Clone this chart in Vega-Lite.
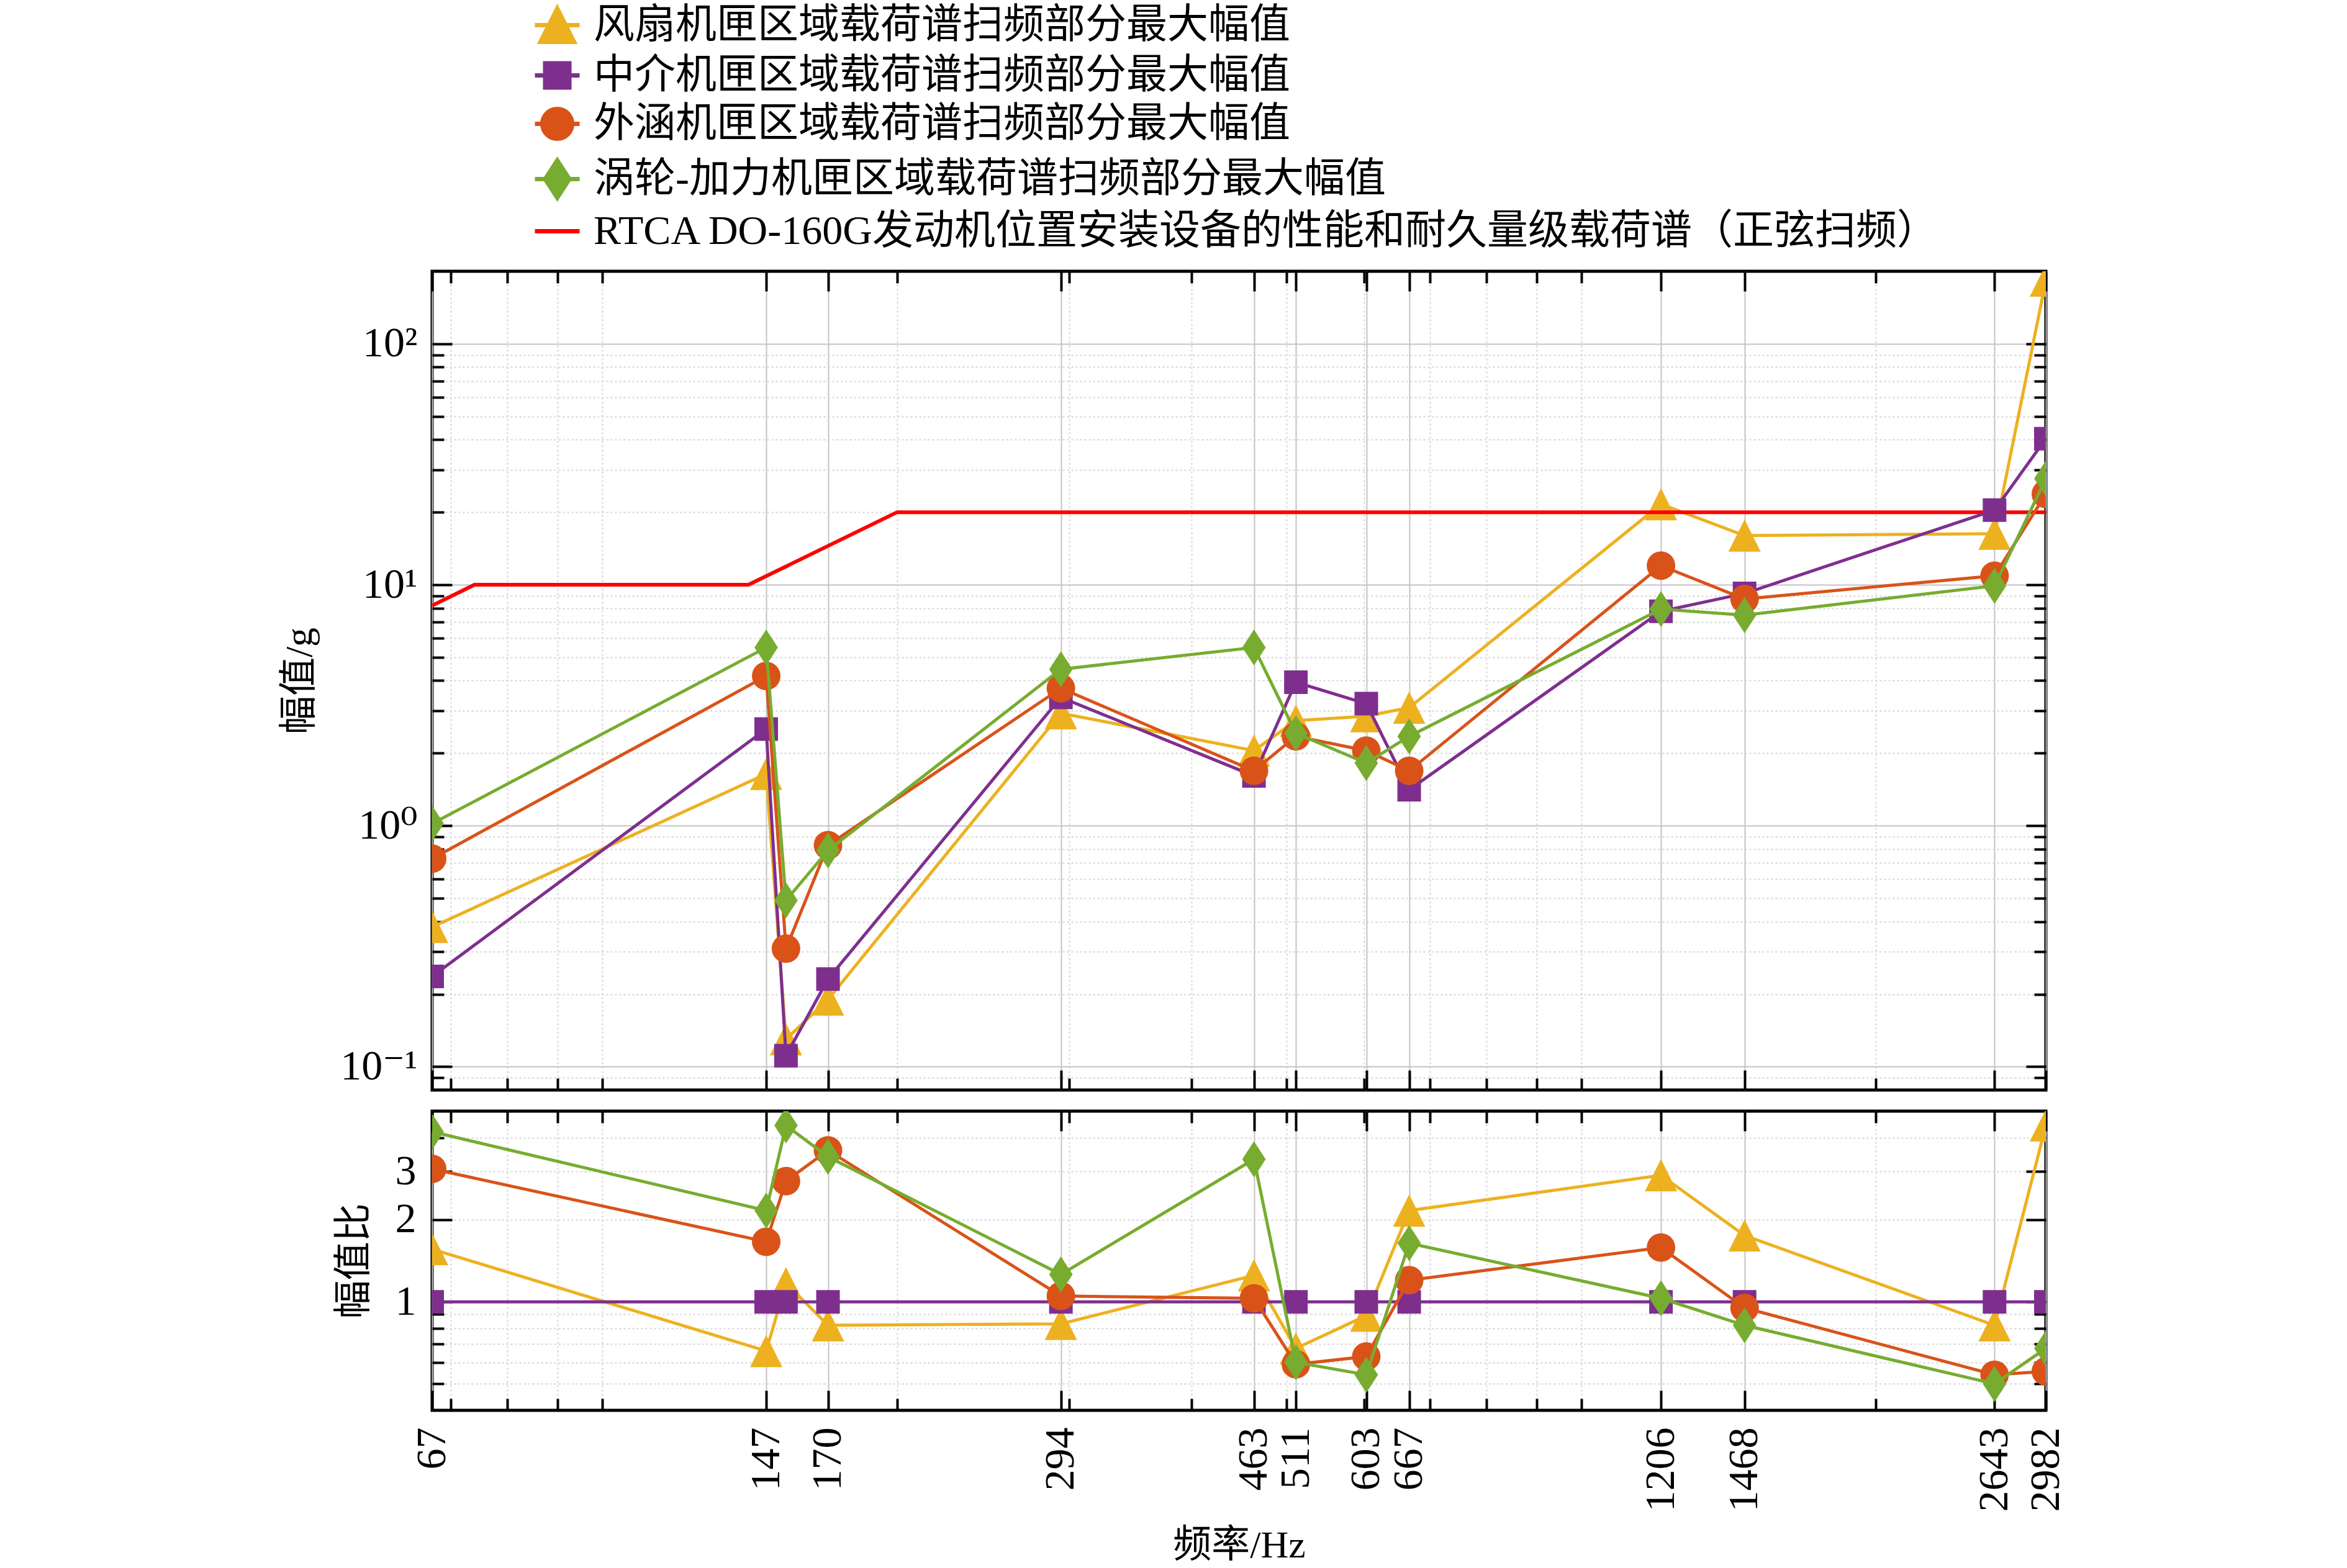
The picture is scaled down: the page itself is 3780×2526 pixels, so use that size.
{
  "$schema": "https://vega.github.io/schema/vega-lite/v6.json",
  "padding": {"left": 449, "top": 7, "right": 0, "bottom": 0},
  "datasets": {
    "fan": [
      {"f": 67, "v": 0.38, "r": 1.56}, {"f": 147, "v": 1.64, "r": 0.66}, {"f": 154, "v": 0.13, "r": 1.17},
      {"f": 170, "v": 0.19, "r": 0.82}, {"f": 294, "v": 2.93, "r": 0.83}, {"f": 463, "v": 2.05, "r": 1.25},
      {"f": 511, "v": 2.73, "r": 0.675}, {"f": 603, "v": 2.85, "r": 0.89}, {"f": 667, "v": 3.09, "r": 2.16},
      {"f": 1206, "v": 21.6, "r": 2.91}, {"f": 1468, "v": 16.0, "r": 1.75}, {"f": 2643, "v": 16.3, "r": 0.82},
      {"f": 2982, "v": 183, "r": 4.43}
    ],
    "mid": [
      {"f": 67, "v": 0.237, "r": 1}, {"f": 147, "v": 2.52, "r": 1}, {"f": 154, "v": 0.111, "r": 1},
      {"f": 170, "v": 0.231, "r": 1}, {"f": 294, "v": 3.41, "r": 1}, {"f": 463, "v": 1.61, "r": 1},
      {"f": 511, "v": 3.94, "r": 1}, {"f": 603, "v": 3.21, "r": 1}, {"f": 667, "v": 1.41, "r": 1},
      {"f": 1206, "v": 7.76, "r": 1}, {"f": 1468, "v": 9.2, "r": 1}, {"f": 2643, "v": 20.4, "r": 1},
      {"f": 2982, "v": 40.4, "r": 1}
    ],
    "byp": [
      {"f": 67, "v": 0.73, "r": 3.07}, {"f": 147, "v": 4.18, "r": 1.66}, {"f": 154, "v": 0.309, "r": 2.77},
      {"f": 170, "v": 0.83, "r": 3.59}, {"f": 294, "v": 3.72, "r": 1.05}, {"f": 463, "v": 1.69, "r": 1.03},
      {"f": 511, "v": 2.35, "r": 0.59}, {"f": 603, "v": 2.05, "r": 0.63}, {"f": 667, "v": 1.69, "r": 1.2},
      {"f": 1206, "v": 12.0, "r": 1.58}, {"f": 1468, "v": 8.73, "r": 0.95}, {"f": 2643, "v": 10.9, "r": 0.54},
      {"f": 2982, "v": 23.8, "r": 0.556}
    ],
    "tur": [
      {"f": 67, "v": 1.02, "r": 4.2}, {"f": 147, "v": 5.49, "r": 2.16}, {"f": 154, "v": 0.49, "r": 4.43},
      {"f": 170, "v": 0.79, "r": 3.4}, {"f": 294, "v": 4.46, "r": 1.26}, {"f": 463, "v": 5.49, "r": 3.33},
      {"f": 511, "v": 2.42, "r": 0.6}, {"f": 603, "v": 1.82, "r": 0.54}, {"f": 667, "v": 2.35, "r": 1.64},
      {"f": 1206, "v": 7.92, "r": 1.03}, {"f": 1468, "v": 7.48, "r": 0.82}, {"f": 2643, "v": 9.9, "r": 0.5},
      {"f": 2982, "v": 27.6, "r": 0.675}
    ],
    "std": [
      {"f": 67, "v": 8.2}, {"f": 74, "v": 10}, {"f": 141, "v": 10}, {"f": 200, "v": 20}, {"f": 2982, "v": 20}
    ]
  },
  "vconcat": [
    {
      "width": 2599,
      "height": 1319,
      "layer": [
        {
          "data": {"name": "mid"},
          "mark": {"type": "point", "opacity": 0},
          "encoding": {
            "x": {"field": "f", "type": "quantitative", "scale": {"type": "log", "domain": [67, 2982], "nice": false},
              "axis": {"orient": "bottom", "values": [67, 147, 170, 294, 463, 511, 603, 667, 1206, 1468, 2643, 2982], "labels": false, "grid": true, "tickSize": -32, "title": null}},
            "y": {"field": "v", "type": "quantitative", "scale": {"type": "log", "domain": [0.08, 200], "nice": false},
              "axis": {"orient": "left", "values": [0.1, 1, 10, 100], "labelExpr": "datum.value > 50 ? '10²' : datum.value > 5 ? '10¹' : datum.value > 0.5 ? '10⁰' : '10⁻¹'", "labelOverlap": false, "labelFontSize": 68, "grid": true, "tickSize": -32, "labelPadding": 56, "title": "幅值/g", "titlePadding": 33}}
          }
        },
        {
          "data": {"name": "mid"},
          "mark": {"type": "point", "opacity": 0},
          "encoding": {
            "x": {"field": "f", "type": "quantitative", "scale": {"type": "log", "domain": [67, 2982], "nice": false},
              "axis": {"orient": "bottom", "values": [70, 80, 90, 100, 200, 300, 400, 500, 600, 700, 800, 900, 1000, 2000], "labels": false, "grid": true, "gridDash": [3, 4], "gridColor": "#d4d4d4", "tickSize": -19, "title": null}},
            "y": {"field": "v", "type": "quantitative", "scale": {"type": "log", "domain": [0.08, 200], "nice": false},
              "axis": {"orient": "left", "values": [0.09, 0.2, 0.3, 0.4, 0.5, 0.6, 0.7, 0.8, 0.9, 2, 3, 4, 5, 6, 7, 8, 9, 20, 30, 40, 50, 60, 70, 80, 90], "labels": false, "grid": true, "gridDash": [3, 4], "gridColor": "#d4d4d4", "tickSize": -19, "title": null}}
          }
        },
        {
          "data": {"name": "mid"},
          "mark": {"type": "point", "opacity": 0},
          "encoding": {
            "x": {"field": "f", "type": "quantitative", "scale": {"type": "log", "domain": [67, 2982], "nice": false},
              "axis": {"orient": "top", "values": [67, 147, 170, 294, 463, 511, 603, 667, 1206, 1468, 2643, 2982], "labels": false, "grid": false, "tickSize": -32, "title": null}},
            "y": {"field": "v", "type": "quantitative", "scale": {"type": "log", "domain": [0.08, 200], "nice": false},
              "axis": {"orient": "right", "values": [0.1, 1, 10, 100], "labels": false, "grid": false, "tickSize": -32, "title": null}}
          }
        },
        {
          "data": {"name": "mid"},
          "mark": {"type": "point", "opacity": 0},
          "encoding": {
            "x": {"field": "f", "type": "quantitative", "scale": {"type": "log", "domain": [67, 2982], "nice": false},
              "axis": {"orient": "top", "values": [70, 80, 90, 100, 200, 300, 400, 500, 600, 700, 800, 900, 1000, 2000], "labels": false, "grid": false, "tickSize": -19, "title": null}},
            "y": {"field": "v", "type": "quantitative", "scale": {"type": "log", "domain": [0.08, 200], "nice": false},
              "axis": {"orient": "right", "values": [0.09, 0.2, 0.3, 0.4, 0.5, 0.6, 0.7, 0.8, 0.9, 2, 3, 4, 5, 6, 7, 8, 9, 20, 30, 40, 50, 60, 70, 80, 90], "labels": false, "grid": false, "tickSize": -19, "title": null}}
          }
        },
        {
          "data": {"name": "fan"},
          "mark": {"type": "line", "color": "#EDB120", "strokeWidth": 5, "clip": true,
            "point": {"filled": true, "opacity": 1, "color": "#EDB120", "shape": "M0,-1L1,1H-1Z", "size": 2704}},
          "encoding": {
            "x": {"field": "f", "type": "quantitative", "scale": {"type": "log", "domain": [67, 2982], "nice": false}, "axis": null},
            "y": {"field": "v", "type": "quantitative", "scale": {"type": "log", "domain": [0.08, 200], "nice": false}, "axis": null}
          }
        },
        {
          "data": {"name": "std"},
          "mark": {"type": "line", "color": "#FF0000", "strokeWidth": 6, "clip": true},
          "encoding": {
            "x": {"field": "f", "type": "quantitative", "scale": {"type": "log", "domain": [67, 2982], "nice": false}, "axis": null},
            "y": {"field": "v", "type": "quantitative", "scale": {"type": "log", "domain": [0.08, 200], "nice": false}, "axis": null}
          }
        },
        {
          "data": {"name": "mid"},
          "mark": {"type": "line", "color": "#7E2F8E", "strokeWidth": 5, "clip": true,
            "point": {"filled": true, "opacity": 1, "color": "#7E2F8E", "shape": "square", "size": 1444}},
          "encoding": {
            "x": {"field": "f", "type": "quantitative", "scale": {"type": "log", "domain": [67, 2982], "nice": false}, "axis": null},
            "y": {"field": "v", "type": "quantitative", "scale": {"type": "log", "domain": [0.08, 200], "nice": false}, "axis": null}
          }
        },
        {
          "data": {"name": "byp"},
          "mark": {"type": "line", "color": "#D95319", "strokeWidth": 5, "clip": true,
            "point": {"filled": true, "opacity": 1, "color": "#D95319", "shape": "circle", "size": 2116}},
          "encoding": {
            "x": {"field": "f", "type": "quantitative", "scale": {"type": "log", "domain": [67, 2982], "nice": false}, "axis": null},
            "y": {"field": "v", "type": "quantitative", "scale": {"type": "log", "domain": [0.08, 200], "nice": false}, "axis": null}
          }
        },
        {
          "data": {"name": "tur"},
          "mark": {"type": "line", "color": "#77AC30", "strokeWidth": 5, "clip": true,
            "point": {"filled": true, "opacity": 1, "color": "#77AC30", "shape": "M0,-1L0.65,0L0,1L-0.65,0Z", "size": 3364}},
          "encoding": {
            "x": {"field": "f", "type": "quantitative", "scale": {"type": "log", "domain": [67, 2982], "nice": false}, "axis": null},
            "y": {"field": "v", "type": "quantitative", "scale": {"type": "log", "domain": [0.08, 200], "nice": false}, "axis": null}
          }
        },
        {
          "data": {"values": []},
          "mark": {"type": "point", "filled": true, "opacity": 1, "strokeWidth": 7},
          "encoding": {
            "shape": {"field": "s", "type": "nominal",
              "scale": {"domain": ["风扇机匣区域载荷谱扫频部分最大幅值", "中介机匣区域载荷谱扫频部分最大幅值", "外涵机匣区域载荷谱扫频部分最大幅值", "涡轮-加力机匣区域载荷谱扫频部分最大幅值", "RTCA DO-160G发动机位置安装设备的性能和耐久量级载荷谱（正弦扫频）"],
                "range": ["M-1.2,0H1.2M0,-0.9L0.9,0.9H-0.9Z", "M-1.2,0H1.2M-0.65,-0.65H0.65V0.65H-0.65Z", "M-1.2,0H1.2M-0.8,0A0.8,0.8 0 1,0 0.8,0A0.8,0.8 0 1,0 -0.8,0Z", "M-1.2,0H1.2M0,-1L0.65,0L0,1L-0.65,0Z", "M-1.2,0H1.2"]},
              "legend": {"title": null, "orient": "none", "legendX": 168, "legendY": -430, "symbolSize": 3600, "symbolStrokeWidth": 7, "symbolOpacity": 1, "labelFontSize": 66, "labelOffset": 25, "rowPadding": 6, "labelLimit": 3000, "padding": 0}},
            "fill": {"field": "s", "type": "nominal",
              "scale": {"domain": ["风扇机匣区域载荷谱扫频部分最大幅值", "中介机匣区域载荷谱扫频部分最大幅值", "外涵机匣区域载荷谱扫频部分最大幅值", "涡轮-加力机匣区域载荷谱扫频部分最大幅值", "RTCA DO-160G发动机位置安装设备的性能和耐久量级载荷谱（正弦扫频）"],
                "range": ["#EDB120", "#7E2F8E", "#D95319", "#77AC30", "#FF0000"]},
              "legend": {"title": null, "orient": "none", "legendX": 168, "legendY": -430, "symbolSize": 3600, "symbolStrokeWidth": 7, "symbolOpacity": 1, "labelFontSize": 66, "labelOffset": 25, "rowPadding": 6, "labelLimit": 3000, "padding": 0}},
            "stroke": {"field": "s", "type": "nominal",
              "scale": {"domain": ["风扇机匣区域载荷谱扫频部分最大幅值", "中介机匣区域载荷谱扫频部分最大幅值", "外涵机匣区域载荷谱扫频部分最大幅值", "涡轮-加力机匣区域载荷谱扫频部分最大幅值", "RTCA DO-160G发动机位置安装设备的性能和耐久量级载荷谱（正弦扫频）"],
                "range": ["#EDB120", "#7E2F8E", "#D95319", "#77AC30", "#FF0000"]},
              "legend": {"title": null, "orient": "none", "legendX": 168, "legendY": -430, "symbolSize": 3600, "symbolStrokeWidth": 7, "symbolOpacity": 1, "labelFontSize": 66, "labelOffset": 25, "rowPadding": 6, "labelLimit": 3000, "padding": 0}}
          }
        }
      ],
      "resolve": {"axis": {"x": "independent", "y": "independent"}}
    },
    {
      "width": 2599,
      "height": 482,
      "layer": [
        {
          "data": {"name": "mid"},
          "mark": {"type": "point", "opacity": 0},
          "encoding": {
            "x": {"field": "f", "type": "quantitative", "scale": {"type": "log", "domain": [67, 2982], "nice": false},
              "axis": {"orient": "bottom", "values": [67, 147, 170, 294, 463, 511, 603, 667, 1206, 1468, 2643, 2982], "format": "d", "labelAngle": -90, "labelFontSize": 68, "labelFlush": false, "labelOverlap": false, "labelPadding": 59, "grid": true, "tickSize": -32, "title": "频率/Hz", "titlePadding": 24}},
            "y": {"field": "r", "type": "quantitative", "scale": {"type": "log", "domain": [0.4, 5], "nice": false},
              "axis": {"orient": "left", "values": [1, 2, 3], "format": "d", "labelFontSize": 68, "labelOverlap": false, "grid": true, "gridDash": [3, 4], "gridColor": "#d4d4d4", "tickSize": -32, "labelPadding": 58, "title": "幅值比", "titlePadding": 34}}
          }
        },
        {
          "data": {"name": "mid"},
          "mark": {"type": "point", "opacity": 0},
          "encoding": {
            "x": {"field": "f", "type": "quantitative", "scale": {"type": "log", "domain": [67, 2982], "nice": false},
              "axis": {"orient": "bottom", "values": [70, 80, 90, 100, 200, 300, 400, 500, 600, 700, 800, 900, 1000, 2000], "labels": false, "grid": true, "gridDash": [3, 4], "gridColor": "#d4d4d4", "tickSize": -19, "title": null}},
            "y": {"field": "r", "type": "quantitative", "scale": {"type": "log", "domain": [0.4, 5], "nice": false},
              "axis": {"orient": "left", "values": [0.5, 0.6, 0.7, 0.8, 0.9, 4], "labels": false, "grid": true, "gridDash": [3, 4], "gridColor": "#d4d4d4", "tickSize": -19, "title": null}}
          }
        },
        {
          "data": {"name": "mid"},
          "mark": {"type": "point", "opacity": 0},
          "encoding": {
            "x": {"field": "f", "type": "quantitative", "scale": {"type": "log", "domain": [67, 2982], "nice": false},
              "axis": {"orient": "top", "values": [67, 147, 170, 294, 463, 511, 603, 667, 1206, 1468, 2643, 2982], "labels": false, "grid": false, "tickSize": -32, "title": null}},
            "y": {"field": "r", "type": "quantitative", "scale": {"type": "log", "domain": [0.4, 5], "nice": false},
              "axis": {"orient": "right", "values": [1, 2, 3], "labels": false, "grid": false, "tickSize": -32, "title": null}}
          }
        },
        {
          "data": {"name": "mid"},
          "mark": {"type": "point", "opacity": 0},
          "encoding": {
            "x": {"field": "f", "type": "quantitative", "scale": {"type": "log", "domain": [67, 2982], "nice": false},
              "axis": {"orient": "top", "values": [70, 80, 90, 100, 200, 300, 400, 500, 600, 700, 800, 900, 1000, 2000], "labels": false, "grid": false, "tickSize": -19, "title": null}},
            "y": {"field": "r", "type": "quantitative", "scale": {"type": "log", "domain": [0.4, 5], "nice": false},
              "axis": {"orient": "right", "values": [0.5, 0.6, 0.7, 0.8, 0.9, 4], "labels": false, "grid": false, "tickSize": -19, "title": null}}
          }
        },
        {
          "data": {"name": "fan"},
          "mark": {"type": "line", "color": "#EDB120", "strokeWidth": 5, "clip": true,
            "point": {"filled": true, "opacity": 1, "color": "#EDB120", "shape": "M0,-1L1,1H-1Z", "size": 2704}},
          "encoding": {
            "x": {"field": "f", "type": "quantitative", "scale": {"type": "log", "domain": [67, 2982], "nice": false}, "axis": null},
            "y": {"field": "r", "type": "quantitative", "scale": {"type": "log", "domain": [0.4, 5], "nice": false}, "axis": null}
          }
        },
        {
          "data": {"name": "mid"},
          "mark": {"type": "line", "color": "#7E2F8E", "strokeWidth": 5, "clip": true,
            "point": {"filled": true, "opacity": 1, "color": "#7E2F8E", "shape": "square", "size": 1444}},
          "encoding": {
            "x": {"field": "f", "type": "quantitative", "scale": {"type": "log", "domain": [67, 2982], "nice": false}, "axis": null},
            "y": {"field": "r", "type": "quantitative", "scale": {"type": "log", "domain": [0.4, 5], "nice": false}, "axis": null}
          }
        },
        {
          "data": {"name": "byp"},
          "mark": {"type": "line", "color": "#D95319", "strokeWidth": 5, "clip": true,
            "point": {"filled": true, "opacity": 1, "color": "#D95319", "shape": "circle", "size": 2116}},
          "encoding": {
            "x": {"field": "f", "type": "quantitative", "scale": {"type": "log", "domain": [67, 2982], "nice": false}, "axis": null},
            "y": {"field": "r", "type": "quantitative", "scale": {"type": "log", "domain": [0.4, 5], "nice": false}, "axis": null}
          }
        },
        {
          "data": {"name": "tur"},
          "mark": {"type": "line", "color": "#77AC30", "strokeWidth": 5, "clip": true,
            "point": {"filled": true, "opacity": 1, "color": "#77AC30", "shape": "M0,-1L0.65,0L0,1L-0.65,0Z", "size": 3364}},
          "encoding": {
            "x": {"field": "f", "type": "quantitative", "scale": {"type": "log", "domain": [67, 2982], "nice": false}, "axis": null},
            "y": {"field": "r", "type": "quantitative", "scale": {"type": "log", "domain": [0.4, 5], "nice": false}, "axis": null}
          }
        }
      ],
      "resolve": {"axis": {"x": "independent", "y": "independent"}}
    }
  ],
  "spacing": 34,
  "bounds": "flush",
  "config": {
    "font": "Liberation Serif, Noto Sans CJK SC",
    "background": "white",
    "view": {"stroke": "black", "strokeWidth": 5},
    "axis": {
      "domain": false,
      "labelFont": "Liberation Serif, DejaVu Serif, Noto Sans CJK SC",
      "labelFontSize": 64,
      "labelColor": "black",
      "titleFont": "Liberation Serif, Noto Sans CJK SC",
      "titleFontSize": 62,
      "titleFontWeight": "normal",
      "titleColor": "black",
      "tickColor": "black",
      "tickWidth": 4,
      "gridColor": "#c4c4c4",
      "gridWidth": 2
    },
    "legend": {
      "labelFont": "Liberation Serif, Noto Sans CJK SC",
      "labelColor": "black"
    }
  }
}
